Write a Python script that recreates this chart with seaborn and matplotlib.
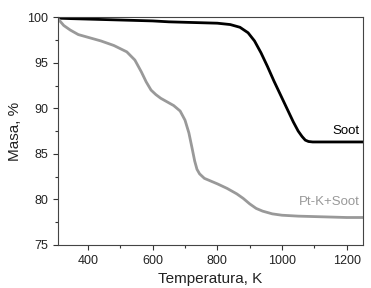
import numpy as np
import pandas as pd
import matplotlib
matplotlib.use("Agg")
import matplotlib.pyplot as plt
from matplotlib.ticker import MultipleLocator
import seaborn as sns

# temperature (K) and mass (%)
soot_t = [308, 350, 400, 450, 500, 550, 600, 650, 700, 750, 800, 840, 870, 895, 915, 935,
          955, 975, 995, 1015, 1035, 1050, 1062, 1072, 1082, 1095, 1120, 1160, 1200, 1250]
soot_m = [99.9, 99.85, 99.8, 99.75, 99.7, 99.65, 99.6, 99.5, 99.45, 99.4, 99.35, 99.2, 98.9,
          98.3, 97.4, 96.1, 94.6, 93.0, 91.5, 90.0, 88.5, 87.5, 86.9, 86.5, 86.35, 86.3,
          86.3, 86.3, 86.3, 86.3]

ptk_t = [308, 325, 345, 370, 400, 440, 480, 520, 545, 565, 580, 595, 610, 625, 645, 665,
         685, 700, 712, 722, 730, 737, 745, 760, 780, 800, 830, 860, 880, 900, 920, 940,
         970, 1000, 1050, 1100, 1150, 1200, 1250]
ptk_m = [99.8, 99.1, 98.6, 98.1, 97.8, 97.4, 96.9, 96.2, 95.3, 94.0, 92.9, 92.0, 91.5,
         91.1, 90.7, 90.3, 89.7, 88.7, 87.3, 85.6, 84.2, 83.3, 82.8, 82.3, 82.0, 81.7,
         81.2, 80.6, 80.1, 79.5, 79.0, 78.7, 78.4, 78.25, 78.15, 78.1, 78.05, 78.0, 78.0]

df = pd.concat([
    pd.DataFrame({"T": soot_t, "m": soot_m, "s": "Soot"}),
    pd.DataFrame({"T": ptk_t, "m": ptk_m, "s": "Pt-K+Soot"}),
])

sns.set_style("ticks")
plt.rcParams["font.family"] = ["Liberation Sans", "DejaVu Sans"]

fig, ax = plt.subplots(figsize=(3.71, 2.88), dpi=100)
sns.lineplot(data=df, x="T", y="m", hue="s", palette={"Soot": "black", "Pt-K+Soot": "#999999"},
             linewidth=2, legend=False, ax=ax, sort=False)

ax.set_xlim(308, 1250)
ax.set_ylim(75, 100)
ax.xaxis.set_major_locator(MultipleLocator(200))
ax.xaxis.set_minor_locator(MultipleLocator(100))
ax.yaxis.set_major_locator(MultipleLocator(5))
ax.yaxis.set_minor_locator(MultipleLocator(2.5))
ax.tick_params(which="both", direction="out", labelsize=9, width=0.8, color="#333333",
               labelcolor="#222222")
ax.tick_params(which="major", length=3.5)
ax.tick_params(which="minor", length=2)
for sp in ax.spines.values():
    sp.set_visible(True)
    sp.set_linewidth(0.8)
    sp.set_color("#444444")

ax.set_xlabel("Temperatura, K", fontsize=11, color="#222222")
ax.set_ylabel("Masa, %", fontsize=11, color="#222222")

ax.text(1240, 86.9, "Soot", ha="right", va="bottom", fontsize=9.5, color="black")
ax.text(1240, 79.0, "Pt-K+Soot", ha="right", va="bottom", fontsize=9.5, color="#999999")

fig.subplots_adjust(left=0.157, right=0.978, top=0.94, bottom=0.15)
fig.savefig("out.png", dpi=100)
